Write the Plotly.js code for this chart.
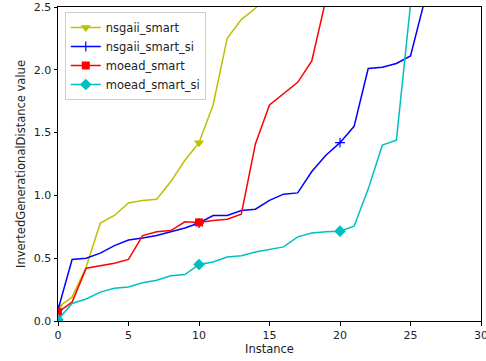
<!DOCTYPE html>
<html>
<head>
<meta charset="utf-8">
<script src="https://cdn.plot.ly/plotly-3.0.1.min.js"></script>
<style>html,body{margin:0;padding:0;background:#fff;}#chart{width:486px;height:361px;}</style>
</head>
<body>
<div id="chart"></div>
<script>
var instances = [0,1,2,3,4,5,6,7,8,9,10,11,12,13,14,15,16,17,18,19,20,21,22,23,24,25,26,27,28,29];
var nsgaiiSmart   = [0.11,0.19,0.43,0.78,0.84,0.94,0.96,0.97,1.11,1.28,1.42,1.72,2.25,2.40,2.49,2.62,2.71,2.85,2.93,3.08,3.15,3.27,3.36,3.44,3.58,3.66,3.72,3.85,3.97,4.05];
var nsgaiiSmartSi = [0.09,0.49,0.50,0.54,0.60,0.645,0.66,0.68,0.71,0.74,0.78,0.84,0.84,0.88,0.89,0.96,1.01,1.02,1.19,1.32,1.42,1.55,2.01,2.02,2.05,2.11,2.55,2.72,2.86,2.97];
var moeadSmart    = [0.07,0.15,0.42,0.44,0.46,0.49,0.68,0.71,0.72,0.79,0.785,0.80,0.81,0.85,1.41,1.72,1.81,1.90,2.07,2.56,2.70,2.82,2.95,3.04,3.12,3.25,3.33,3.41,3.52,3.60];
var moeadSmartSi  = [0.01,0.14,0.175,0.23,0.26,0.27,0.305,0.325,0.36,0.37,0.45,0.47,0.51,0.52,0.55,0.57,0.59,0.67,0.70,0.71,0.715,0.755,1.05,1.40,1.44,2.52,2.90,3.05,3.18,3.30];
var seriesNames = ['nsgaii_smart','nsgaii_smart_si','moead_smart','moead_smart_si'];
var markedIdx = [0,10,20];
var xTicks = [0,5,10,15,20,25,30];
var yTicks = [0,0.5,1,1.5,2,2.5];

var colors = ['#bfbf00','#0000ff','#ff0000','#00bfbf'];
var symbols = ['triangle-down','cross-thin','square','diamond'];
var sizes = [9,7,8,9];
var data = [nsgaiiSmart,nsgaiiSmartSi,moeadSmart,moeadSmartSi];

var traces = data.map(function(ys,i){
  return {
    x: instances, y: ys, name: seriesNames[i],
    type: 'scatter', mode: 'lines+markers',
    line: {color: colors[i], width: 1.5},
    marker: {symbol: symbols[i], size: sizes[i], color: colors[i],
             line: {color: colors[i], width: i===1 ? 1.2 : 0}},
    selectedpoints: markedIdx,
    selected: {marker: {opacity: 1}},
    unselected: {marker: {opacity: 0}}
  };
});

var axisCommon = {
  showline: true, linecolor: '#000', linewidth: 1, mirror: true,
  ticks: 'outside', ticklen: 3.5, tickwidth: 1, tickcolor: '#000',
  showgrid: false, zeroline: false, ticklabeloverflow: 'allow',
  tickfont: {family: 'DejaVu Sans', size: 11, color: '#222'}
};
var titleFont = {family: 'DejaVu Sans', size: 11.5, color: '#222'};

var layout = {
  width: 486, height: 361,
  margin: {l: 58, r: 5, t: 7, b: 40},
  paper_bgcolor: '#fff', plot_bgcolor: '#fff',
  font: {family: 'DejaVu Sans', size: 11, color: '#222'},
  showlegend: true,
  legend: {x: 0.016, y: 0.984, xanchor: 'left', yanchor: 'top',
           bgcolor: 'rgba(255,255,255,0.8)', bordercolor: '#cccccc', borderwidth: 1,
           font: {family: 'DejaVu Sans', size: 11.5, color: '#222'},
           tracegroupgap: 0, itemwidth: 30},
  xaxis: Object.assign({}, axisCommon, {
    range: [0, 30], tickvals: xTicks, ticktext: xTicks.map(String),
    title: {text: 'Instance', font: titleFont, standoff: 3}
  }),
  yaxis: Object.assign({}, axisCommon, {
    range: [0, 2.5], tickvals: yTicks, tickformat: '.1f',
    title: {text: 'InvertedGenerationalDistance value', font: titleFont, standoff: 5}
  })
};

Plotly.newPlot('chart', traces, layout, {displayModeBar: false, staticPlot: true});
</script>
</body>
</html>
